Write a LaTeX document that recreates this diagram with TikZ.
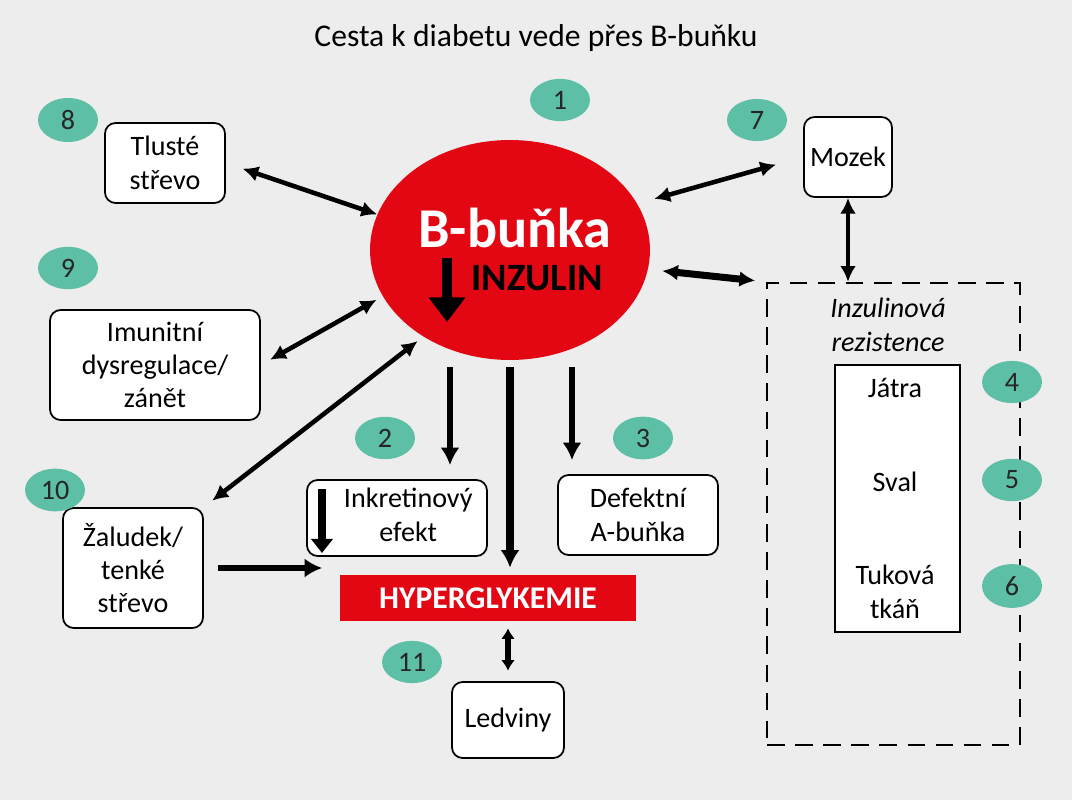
\documentclass[tikz,border=0pt]{standalone}
\usepackage{fontspec}
\setmainfont{Carlito}
\usetikzlibrary{arrows.meta,shapes.geometric}
\definecolor{bgray}{HTML}{EDEDED}
\definecolor{bred}{HTML}{E30613}
\definecolor{bteal}{HTML}{5DBFA5}
\begin{document}
\begin{tikzpicture}[x=0.02cm,y=-0.02cm,
  organ/.style={draw,rounded corners=6pt,fill=white,line width=1pt,align=center,font=\fontsize{16}{19}\selectfont,inner sep=2pt},
  num/.style={ellipse,fill=bteal,minimum width=1.2cm,minimum height=0.72cm,font=\fontsize{16}{19}\selectfont,text=black!85},
  link/.style={line width=2.6pt,{Latex[length=9pt,width=9pt]}-{Latex[length=9pt,width=9pt]}},
  push/.style={line width=3.4pt,-{Latex[length=10pt,width=11pt]}}]
  \fill[bgray] (0,0) rectangle (1072,800);
  \node (title) at (536,38) {\fontsize{18}{21}\selectfont Cesta k diabetu vede přes B-buňku};

  % the cell
  \node[ellipse,fill=bred,minimum width=5.6cm,minimum height=4.4cm] (bcell) at (510,250) {};
  \node[text=white,font=\bfseries\fontsize{32}{36}\selectfont] (bname) at (515,228) {B-buňka};
  \node[font=\bfseries\fontsize{22}{26}\selectfont] (inz) at (537,278) {INZULIN};
  \draw[push,line width=6pt,-{Triangle[length=14pt,width=20pt]}] (447,258) -- (447,322);

  % organs
  \node[organ,minimum width=2.4cm,minimum height=1.6cm] (colon) at (165,163) {Tlusté\\střevo};
  \node[organ,minimum width=1.76cm,minimum height=1.6cm] (brain) at (848,157) {Mozek};
  \node[organ,minimum width=4.2cm,minimum height=2.2cm] (immune) at (155,365) {Imunitní\\dysregulace/\\zánět};
  \node[organ,minimum width=2.8cm,minimum height=2.4cm] (gut) at (133,568) {Žaludek/\\tenké\\střevo};
  \node[draw,rounded corners=6pt,fill=white,line width=1pt,inner sep=2pt,font=\fontsize{16}{19}\selectfont,minimum width=3.6cm,minimum height=1.52cm] (incr) at (397,518)
    {\hspace*{0.45cm}\begin{tabular}{@{}c@{}}Inkretinový\\efekt\end{tabular}};
  \draw[push,line width=4pt,-{Triangle[length=8pt,width=12pt]}] (322,489) -- (322,553);
  \node[organ,minimum width=3.2cm,minimum height=1.6cm] (alpha) at (638,515) {Defektní\\A-buňka};
  \node[organ,minimum width=2.24cm,minimum height=1.52cm] (kidney) at (508,720) {Ledviny};
  \node[fill=bred,text=white,minimum width=5.92cm,minimum height=0.92cm,font=\bfseries\fontsize{18}{21}\selectfont] (hyper) at (488,598) {HYPERGLYKEMIE};

  % insulin resistence
  \node[draw,dashed,line width=1.4pt,dash pattern=on 10pt off 6pt,minimum width=5.06cm,minimum height=9.24cm] (resist) at (893.5,514) {};
  \node[font=\itshape\fontsize{16}{19}\selectfont,align=center] (rlabel) at (888,325) {Inzulinová\\rezistence};
  \node[draw,fill=white,line width=1pt,minimum width=2.5cm,minimum height=5.34cm] (tissue) at (897.5,498.5) {};
  \node[font=\fontsize{16}{19}\selectfont] (liver) at (895,388) {Játra};
  \node[font=\fontsize{16}{19}\selectfont] (muscle) at (895,482) {Sval};
  \node[font=\fontsize{16}{19}\selectfont,align=center] (fat) at (895,592) {Tuková\\tkáň};

  % numbers
  \foreach \n/\x/\y in {1/560/100,2/385/438,3/643/438,4/1012/382,5/1012/480,6/1012/586,
                        7/757/120,8/68/120,9/68/268,10/55/490,11/412/662}
    \node[num] (n\n) at (\x,\y) {\n};

  % connectors
  \draw[link,shorten <=10pt] (colon.east) -- (bcell.165);
  \draw[link,shorten <=10pt,shorten >=16pt] (bcell.20) -- (brain.west);
  \draw[link,line width=4pt,shorten <=8pt,shorten >=6pt] (bcell.-8) -- (resist.north west);
  \draw[link] (brain.south) -- (resist.north -| brain.south);
  \draw[link,shorten <=6pt,shorten >=4pt] (immune.east) -- (bcell.200);
  \draw[link,shorten <=4pt,shorten >=6pt] (bcell.225) -- (gut.north east);
  \draw[push,shorten <=4pt,shorten >=8pt] (bcell.south -| 450,0) -- (incr.north -| 450,0);
  \draw[push,line width=4pt,shorten <=4pt,shorten >=4pt] (bcell.south -| 510,0) -- (hyper.north -| 510,0);
  \draw[push,shorten <=4pt,shorten >=8pt] (bcell.south -| 572,0) -- (alpha.north -| 572,0);
  \draw[push,shorten <=8pt,shorten >=10pt] (gut.east) -- (hyper.west |- gut.east);
  \draw[link,line width=3pt,{Latex[length=6pt,width=8pt]}-{Latex[length=6pt,width=8pt]},shorten <=4pt,shorten >=6pt] (hyper.south -| kidney.north) -- (kidney.north);
\end{tikzpicture}
\end{document}
